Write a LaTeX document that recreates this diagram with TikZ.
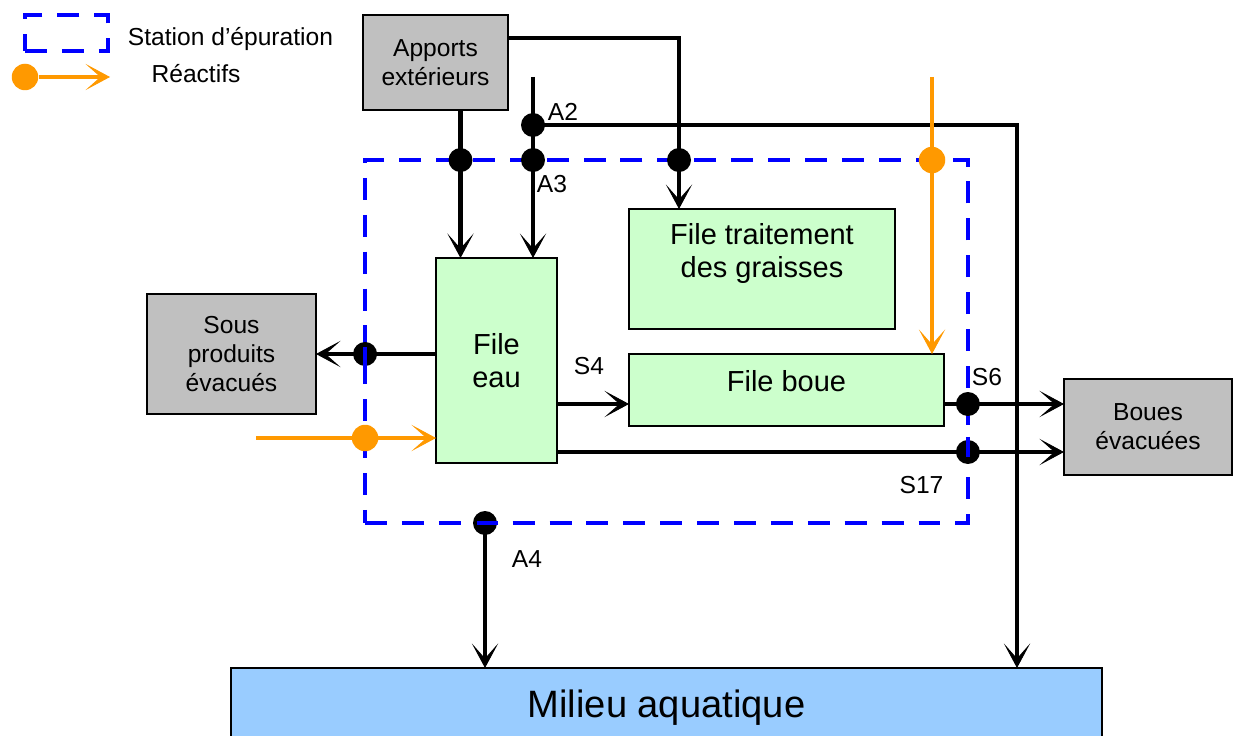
\documentclass[tikz,border=0pt]{standalone}
\usepackage{fontspec}
\setmainfont{Liberation Sans}
\usetikzlibrary{arrows.meta,positioning}

\definecolor{boxgray}{HTML}{C0C0C0}
\definecolor{procgreen}{HTML}{CCFFCC}
\definecolor{waterblue}{HTML}{99CCFF}
\definecolor{reagorange}{HTML}{FF9900}

\tikzset{
  box/.style={draw, line width=1pt, outer sep=0pt, inner sep=2pt, align=center,
    font=\fontsize{14}{16.5}\selectfont},
  outbox/.style={box, fill=boxgray},
  procbox/.style={box, fill=procgreen, font=\fontsize{16.5}{19}\selectfont},
  station/.style={draw=blue, line width=2.6pt, outer sep=0pt, dash pattern=on 12.5pt off 8.5pt},
  flow/.style={line width=2.5pt, -{Stealth[length=14pt, width=15pt, inset=8.5pt, line width=0.5pt]}},
  reag/.style={flow, draw=reagorange},
  dot/.style={circle, fill=black, inner sep=0pt, minimum size=0.48cm},
  rdot/.style={circle, fill=reagorange, inner sep=0pt, minimum size=0.53cm},
  cut/.style={draw=blue, line width=2.6pt},
  lbl/.style={inner sep=0pt, font=\fontsize{14}{16.5}\selectfont}
}

\begin{document}
\begin{tikzpicture}[x=0.02cm, y=-0.02cm]

	\useasboundingbox (0,0) rectangle (1233,736);

	% legende
	\node[station, minimum width=1.66cm, minimum height=0.72cm] (leg) at (66.5,33) {};
	\node[lbl] (legtxt) at (230.5,39.5) {Station d’épuration};
	\node[rdot] (legdot) at (25,77) {};
	\coordinate (legend) at (110,77);
	\draw[reag] (legdot) -- (legend); %
	\node[lbl] (reactifs) at (196,74) {Réactifs};

	% station et files
	\node[station, minimum width=12.06cm, minimum height=7.26cm] (station) at (666.5,341.5) {};
	\node[outbox, minimum width=2.9cm, minimum height=1.9cm] (apports) at (435.5,62.5) {Apports\\extérieurs};
	\node[procbox, minimum width=2.42cm, minimum height=4.1cm] (feau) at (496.5,360.5) {File\\eau};
	\node[procbox, minimum width=5.32cm, minimum height=2.4cm] (graisses) at (762,269) {};
	\node[procbox, draw=none, fill=none] (graissestxt) at ([yshift=0.31cm]graisses.center) {File traitement\\des graisses};
	\node[procbox, minimum width=6.3cm, minimum height=1.44cm, text depth=10pt] (fboue) at (786.5,390) {File boue};
	\node[outbox, minimum width=3.38cm, minimum height=2.4cm] (sous) at (231.5,354) {Sous\\produits\\évacués};
	\node[outbox, minimum width=3.36cm, minimum height=1.92cm] (boues) at (1148,427) {Boues\\évacuées};
	\node[box, fill=waterblue, minimum width=17.42cm, minimum height=1.6cm,
	  font=\fontsize{21.7}{26}\selectfont] (milieu) at (666.5,708) {Milieu aquatique};

	% flux
	\coordinate (aTop) at (533,77);
	\coordinate (cR) at (1017,125);
	\coordinate (cG) at (679,38);
	\coordinate (rTop) at (932,77);
	\coordinate (rIn) at (256,438);
	\coordinate (yS) at ([yshift=-0.28cm]fboue.west);
	\coordinate (yT) at ([yshift=-0.5cm]boues.west);
	\coordinate (cA4) at (485,523);

	\draw[flow] ([xshift=0.5cm]apports.south) coordinate (aIn) -- (feau.north -| aIn); %
	\draw[flow] (aTop) -- (feau.north -| aTop); %
	\draw[flow] (aTop |- cR) -- (cR) -- (milieu.north -| cR); %
	\draw[flow] (apports.east |- cG) -- (cG) -- (graisses.north -| cG); %
	\draw[reag] (rTop) -- (fboue.north -| rTop); %
	\draw[flow] (feau.west |- sous) -- (sous.east); %
	\draw[reag] (rIn) -- (feau.west |- rIn); %
	\draw[flow] (feau.east |- yS) -- (yS); %
	\draw[flow] (fboue.east |- yS) -- (boues.west |- yS); %
	\draw[flow] (feau.east |- yT) -- (yT); %
	\draw[flow] (cA4) -- (milieu.north -| cA4); %

	% points de mesure
	\node[dot] (a1) at (aIn |- station.north) {};
	\node[dot] (a2) at (aTop |- cR) {};
	\node[dot] (a3) at (aTop |- station.north) {};
	\node[dot] (g1) at (cG |- station.north) {};
	\node[rdot] (r1) at (rTop |- station.north) {};
	\node[dot] (sp) at (station.west |- sous) {};
	\node[rdot] (r2) at (station.west |- rIn) {};
	\node[dot] (s6) at (station.east |- yS) {};
	\node[dot] (s17) at (station.east |- yT) {};
	\node[dot] (a4) at (cA4) {};

	\draw[cut] ([yshift=0.14cm]sp.center) -- ([yshift=-0.26cm]sp.center);
	\draw[cut] ([yshift=0.3cm]s17.center) -- ([yshift=-0.1cm]s17.center);
	\draw[cut] ([xshift=-0.16cm]a4.center) -- ([xshift=0.24cm]a4.center);

	\node[lbl] (la2) at (563,112) {A2};
	\node[lbl] (la3) at (552,184.5) {A3};
	\node[lbl] (ls4) at (589,366) {S4};
	\node[lbl] (ls6) at (987,377.5) {S6};
	\node[lbl] (ls17) at (921.5,485) {S17};
	\node[lbl] (la4) at (527,559) {A4};

\end{tikzpicture}
\end{document}
